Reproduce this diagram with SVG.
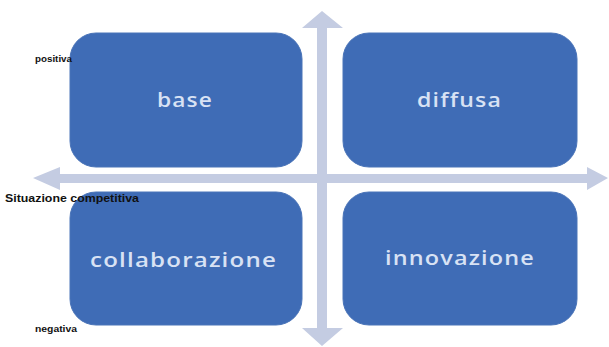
<svg xmlns="http://www.w3.org/2000/svg" width="609" height="347" viewBox="0 0 609 347">
  <style>
    .box { fill: #3f6cb6; stroke: #4a74b8; stroke-width: 1; }
    .lbl { font-family: "Open Sans", "DejaVu Sans", sans-serif; font-size: 20px; font-weight: 600; fill: #d8e2f4; letter-spacing: 1px; }
    .axis { fill: #c4cce2; }
    .note { font-family: "Liberation Sans", Arial, sans-serif; font-weight: bold; fill: #111; }
  </style>
  <rect width="609" height="347" fill="#ffffff"/>

  <!-- axes -->
  <g id="connectors">
    <!-- horizontal double arrow -->
    <polygon class="axis" points="33,178 60,167 60,174 587,174 587,167 608,178 587,190 587,183 60,183 60,190"/>
    <!-- vertical double arrow -->
    <polygon class="axis" points="322,11 343,28 327,28 327,328 343,328 322,346 302,328 317,328 317,28 302,28"/>
  </g>

  <g id="node-base">
    <rect class="box" x="70" y="33" width="232" height="134" rx="26"/>
    <text class="lbl" x="157" y="107" textLength="56" lengthAdjust="spacingAndGlyphs">base</text>
  </g>
  <g id="node-diffusa">
    <rect class="box" x="343" y="33" width="234" height="134" rx="26"/>
    <text class="lbl" x="417" y="107" textLength="85" lengthAdjust="spacingAndGlyphs">diffusa</text>
  </g>
  <g id="node-collaborazione">
    <rect class="box" x="70" y="192" width="232" height="133" rx="26"/>
    <text class="lbl" x="90" y="267" textLength="187" lengthAdjust="spacingAndGlyphs">collaborazione</text>
  </g>
  <g id="node-innovazione">
    <rect class="box" x="343" y="192" width="234" height="133" rx="26"/>
    <text class="lbl" x="385" y="265" textLength="150" lengthAdjust="spacingAndGlyphs">innovazione</text>
  </g>

  <!-- axis captions -->
  <text class="note" x="35" y="62" font-size="9" textLength="37" lengthAdjust="spacingAndGlyphs">positiva</text>
  <text class="note" x="5" y="202" font-size="11" textLength="134" lengthAdjust="spacingAndGlyphs">Situazione competitiva</text>
  <text class="note" x="35" y="332" font-size="9" textLength="42" lengthAdjust="spacingAndGlyphs">negativa</text>
</svg>
